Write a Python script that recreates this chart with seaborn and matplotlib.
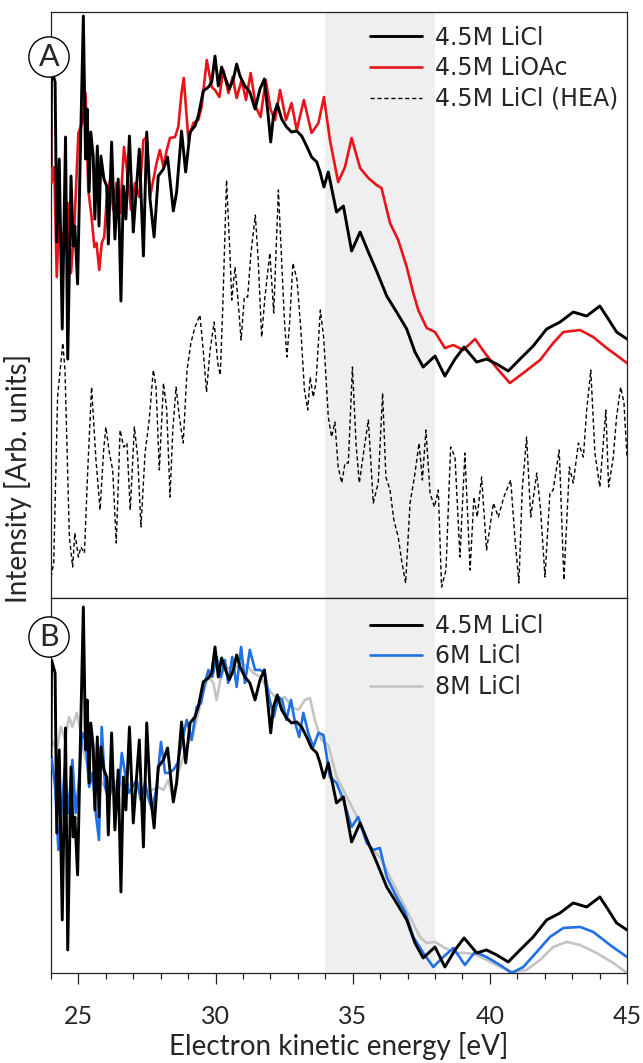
import numpy as np
import pandas as pd
import matplotlib
matplotlib.use("Agg")
import matplotlib.pyplot as plt
from matplotlib.ticker import MultipleLocator
import seaborn as sns

# 4.5M LiCl (shown in both panels)
licl45_e = [24.00, 24.02, 24.15, 24.21, 24.30, 24.41, 24.53, 24.61, 24.73, 24.81,
            24.87, 24.97, 25.06, 25.18, 25.26, 25.32, 25.39, 25.45, 25.54, 25.60,
            25.69, 25.75, 25.82, 25.93, 26.03, 26.09, 26.21, 26.33, 26.45, 26.55,
            26.64, 26.73, 26.86, 27.00, 27.12, 27.22, 27.37, 27.49, 27.61, 27.76,
            27.91, 28.10, 28.25, 28.46, 28.58, 28.76, 28.91, 29.07, 29.25, 29.37,
            29.55, 29.74, 29.86, 29.98, 30.10, 30.22, 30.34, 30.50, 30.65, 30.77,
            30.89, 31.07, 31.25, 31.44, 31.62, 31.78, 31.92, 32.01, 32.11, 32.25,
            32.41, 32.59, 32.77, 32.96, 33.14, 33.32, 33.50, 33.69, 33.81, 33.95,
            34.11, 34.41, 34.66, 34.96, 35.27, 35.57, 35.87, 36.24, 36.60, 36.97,
            37.27, 37.57, 38.00, 38.36, 38.73, 39.06, 39.52, 39.88, 40.25, 40.67,
            41.10, 41.58, 42.07, 42.56, 43.04, 43.53, 44.01, 44.32, 44.62, 45.00]
licl45_i = [216, 313, 300, 140, 223, 53, 245, 23, 206, 136,
            156, 98, 216, 366, 223, 273, 190, 250, 226, 163,
            236, 156, 226, 203, 196, 138, 240, 143, 203, 81,
            196, 163, 246, 150, 196, 233, 126, 250, 183, 145,
            206, 213, 225, 171, 190, 251, 210, 250, 256, 266,
            291, 295, 300, 326, 296, 315, 305, 293, 303, 318,
            306, 296, 290, 273, 293, 303, 266, 240, 266, 278,
            263, 255, 250, 251, 246, 236, 225, 220, 210, 195,
            210, 170, 176, 131, 150, 130, 111, 86, 70, 53,
            30, 15, 26, 6, 23, 35, 20, 23, 18, 11,
            23, 36, 53, 60, 70, 66, 76, 63, 50, 43]

# 4.5M LiOAc
lioac_e = [24.00, 24.02, 24.12, 24.21, 24.29, 24.49, 24.61, 24.73, 24.85, 25.00,
           25.14, 25.26, 25.36, 25.48, 25.58, 25.66, 25.76, 25.85, 25.94, 26.03,
           26.15, 26.27, 26.39, 26.52, 26.66, 26.76, 26.92, 27.06, 27.22, 27.37,
           27.49, 27.61, 27.73, 27.85, 27.97, 28.10, 28.22, 28.34, 28.52, 28.64,
           28.76, 28.84, 29.01, 29.19, 29.37, 29.49, 29.68, 29.86, 29.98, 30.14,
           30.28, 30.47, 30.62, 30.77, 30.95, 31.11, 31.28, 31.47, 31.64, 31.83,
           32.01, 32.17, 32.35, 32.57, 32.77, 32.96, 33.22, 33.50, 33.75, 33.95,
           34.17, 34.47, 34.72, 34.96, 35.27, 35.57, 35.87, 36.05, 36.36, 36.66,
           36.97, 37.20, 37.39, 37.70, 38.00, 38.36, 38.67, 39.03, 39.46, 39.82,
           40.25, 40.73, 41.22, 41.83, 42.31, 42.68, 43.29, 43.77, 44.26, 45.00]
lioac_i = [272, 199, 215, 105, 159, 139, 179, 109, 155, 249,
           259, 289, 192, 165, 135, 139, 112, 139, 145, 182,
           202, 172, 199, 169, 235, 215, 172, 199, 185, 242,
           245, 185, 202, 219, 232, 215, 232, 244, 245, 255,
           289, 304, 242, 259, 262, 275, 322, 295, 292, 285,
           312, 289, 305, 284, 302, 282, 309, 275, 265, 302,
           272, 262, 292, 262, 279, 252, 282, 249, 259, 285,
           242, 200, 215, 244, 214, 204, 197, 194, 159, 142,
           115, 90, 72, 54, 50, 34, 37, 32, 43, 29,
           14, -1, 9, 22, 39, 50, 52, 45, 34, 19]

# 4.5M LiCl (HEA)
hea_e = [24.00, 24.10, 24.24, 24.43, 24.51, 24.67, 24.79, 24.87, 25.00, 25.09,
         25.22, 25.34, 25.48, 25.64, 25.79, 25.92, 26.00, 26.13, 26.25, 26.38,
         26.52, 26.65, 26.77, 26.89, 27.04, 27.16, 27.28, 27.43, 27.58, 27.73,
         27.83, 27.95, 28.10, 28.22, 28.34, 28.44, 28.56, 28.68, 28.82, 28.96,
         29.10, 29.25, 29.43, 29.55, 29.67, 29.80, 29.95, 30.08, 30.17, 30.26,
         30.40, 30.53, 30.59, 30.71, 30.81, 30.93, 31.05, 31.17, 31.29, 31.45,
         31.56, 31.68, 31.80, 31.98, 32.12, 32.29, 32.41, 32.51, 32.60, 32.70,
         32.82, 32.97, 33.11, 33.24, 33.36, 33.45, 33.56, 33.66, 33.82, 33.94,
         34.11, 34.23, 34.35, 34.47, 34.60, 34.72, 34.84, 34.99, 35.12, 35.24,
         35.41, 35.57, 35.75, 35.93, 36.09, 36.21, 36.36, 36.50, 36.66, 36.78,
         36.93, 37.09, 37.25, 37.42, 37.54, 37.67, 37.82, 37.98, 38.12, 38.24,
         38.40, 38.57, 38.73, 38.91, 39.09, 39.28, 39.42, 39.54, 39.70, 39.88,
         40.13, 40.31, 40.51, 40.76, 40.92, 41.06, 41.18, 41.34, 41.49, 41.71,
         41.85, 42.01, 42.19, 42.31, 42.53, 42.70, 42.90, 43.04, 43.23, 43.41,
         43.53, 43.68, 43.83, 44.01, 44.23, 44.33, 44.50, 44.62, 44.77, 44.89,
         45.00]
hea_i = [-195, -181, -15, 39, 12, -155, -185, -151, -175, -165,
         -171, -88, -5, -78, -128, -68, -45, -71, -88, -161,
         -48, -65, -61, -128, -45, -75, -145, -71, -38, 12,
         -5, -88, -1, -28, -115, -48, -5, -35, -61, 12,
         39, 55, 67, 32, -10, 32, 60, 19, 7, 72,
         202, 125, 82, 115, 85, 42, 85, 85, 129, 167,
         119, 45, 85, 129, 69, 192, 122, 62, 25, 59,
         119, 102, 52, -8, -28, 5, -15, -1, 72, 45,
         -35, -55, -40, -85, -101, -81, -81, 15, -61, -101,
         -68, -38, -121, -101, -11, -95, -108, -138, -155, -178,
         -201, -121, -95, -61, -98, -48, -111, -125, -108, -205,
         -188, -65, -75, -175, -71, -188, -115, -135, -95, -168,
         -121, -135, -115, -98, -158, -201, -108, -55, -135, -91,
         -128, -195, -111, -108, -68, -198, -85, -101, -61, -75,
         -28, 12, -71, -105, -28, -105, -75, -35, -5, -21,
         -75]

# 6M LiCl
licl6_e = [24.02, 24.15, 24.27, 24.39, 24.51, 24.63, 24.78, 24.90, 25.00, 25.14,
           25.26, 25.39, 25.51, 25.63, 25.75, 25.85, 25.97, 26.11, 26.27, 26.43,
           26.58, 26.70, 26.84, 26.97, 27.12, 27.27, 27.43, 27.57, 27.69, 27.85,
           28.01, 28.16, 28.30, 28.46, 28.62, 28.76, 28.95, 29.13, 29.31, 29.47,
           29.61, 29.74, 29.88, 30.04, 30.20, 30.34, 30.46, 30.61, 30.77, 30.93,
           31.07, 31.25, 31.44, 31.62, 31.80, 31.95, 32.12, 32.29, 32.43, 32.58,
           32.75, 32.90, 33.05, 33.20, 33.38, 33.56, 33.75, 33.93, 34.17, 34.41,
           34.66, 34.96, 35.20, 35.51, 35.75, 35.99, 36.24, 36.60, 36.91, 37.21,
           37.57, 37.94, 38.30, 38.67, 39.09, 39.46, 39.88, 40.37, 40.79, 41.22,
           41.71, 42.19, 42.68, 43.29, 43.77, 44.38, 45.00]
licl6_i = [216, 186, 123, 166, 206, 160, 213, 160, 186, 240,
           233, 186, 200, 160, 133, 246, 186, 173, 193, 166,
           220, 200, 180, 186, 193, 173, 190, 173, 163, 186,
           231, 200, 200, 203, 210, 230, 253, 233, 266, 270,
           290, 303, 296, 316, 296, 313, 290, 316, 286, 326,
           290, 323, 303, 303, 300, 276, 256, 276, 273, 253,
           273, 250, 236, 260, 240, 226, 240, 238, 196, 190,
           173, 146, 156, 130, 123, 125, 96, 76, 61, 36,
           20, 6, 16, 25, 8, 21, 16, 8, 0, 6,
           21, 36, 45, 46, 41, 28, 16]

# 8M LiCl
licl8_e = [24.02, 24.21, 24.36, 24.51, 24.66, 24.78, 24.94, 25.09, 25.24, 25.42,
           25.60, 25.79, 25.97, 26.21, 26.45, 26.70, 26.94, 27.18, 27.43, 27.67,
           27.91, 28.10, 28.28, 28.46, 28.64, 28.82, 29.01, 29.19, 29.37, 29.55,
           29.74, 29.92, 30.04, 30.22, 30.40, 30.59, 30.77, 30.95, 31.19, 31.38,
           31.62, 31.86, 32.04, 32.29, 32.53, 32.77, 33.02, 33.26, 33.44, 33.62,
           33.86, 34.11, 34.41, 34.90, 35.27, 35.63, 35.99, 36.36, 36.72, 37.09,
           37.45, 37.70, 38.00, 38.36, 38.73, 39.15, 39.52, 39.88, 40.37, 40.86,
           41.34, 41.83, 42.31, 42.80, 43.29, 43.89, 44.50, 45.00]
licl8_i = [233, 223, 246, 233, 256, 246, 260, 240, 216, 200,
           186, 193, 186, 196, 186, 193, 186, 190, 180, 183,
           186, 183, 193, 173, 200, 216, 230, 240, 260, 280,
           296, 290, 273, 300, 306, 303, 306, 310, 306, 300,
           296, 286, 280, 273, 276, 266, 263, 273, 275, 253,
           233, 228, 196, 170, 150, 126, 116, 96, 76, 56,
           36, 30, 31, 25, 20, 20, 18, 13, 6, 1,
           3, 13, 26, 31, 28, 20, 10, 0]

shade_range = (34, 38)
xticks = [25, 30, 35, 40, 45]

sns.set_theme(style="white")
plt.rcParams["font.family"] = ["Lato", "DejaVu Sans"]

fig = plt.figure(figsize=(6.43, 10.63), dpi=100)
ax_a = fig.add_axes([0.0793, 0.4374, 0.8958, 0.5513])
ax_b = fig.add_axes([0.0793, 0.0847, 0.8958, 0.3528])

for ax in (ax_a, ax_b):
    ax.axvspan(*shade_range, color="#efefef", lw=0, zorder=0)

# panel A
sns.lineplot(x=hea_e, y=hea_i, ax=ax_a, color="black", lw=1.0, ls=(0, (3, 2)),
             estimator=None, sort=False, label="4.5M LiCl (HEA)", zorder=2)
sns.lineplot(x=lioac_e, y=lioac_i, ax=ax_a, color="#e8141a", lw=1.9,
             estimator=None, sort=False, label="4.5M LiOAc", zorder=3)
sns.lineplot(x=licl45_e, y=licl45_i, ax=ax_a, color="black", lw=2.1,
             estimator=None, sort=False, label="4.5M LiCl", zorder=4)

# panel B
sns.lineplot(x=licl8_e, y=licl8_i, ax=ax_b, color="#c4c4c4", lw=1.9,
             estimator=None, sort=False, label="8M LiCl", zorder=2)
sns.lineplot(x=licl6_e, y=licl6_i, ax=ax_b, color="#1f6fe5", lw=1.9,
             estimator=None, sort=False, label="6M LiCl", zorder=3)
sns.lineplot(x=licl45_e, y=licl45_i, ax=ax_b, color="black", lw=2.1,
             estimator=None, sort=False, label="4.5M LiCl", zorder=4)

ax_a.set_ylim(-216, 370)
ax_b.set_ylim(0, 375)

for ax, anchor in ((ax_a, (0.533, 0.997)), (ax_b, (0.533, 0.989))):
    ax.set_xlim(24, 45)
    ax.set_yticks([])
    ax.set_xlabel("")
    ax.set_ylabel("")
    for s in ax.spines.values():
        s.set_color("#222222")
        s.set_linewidth(0.9)
    h, l = ax.get_legend_handles_labels()
    ax.legend(h[::-1], l[::-1], loc="upper left", bbox_to_anchor=anchor,
              frameon=False, borderpad=0, labelspacing=0.28, handlelength=2.2,
              handletextpad=0.55, prop={"family": "DejaVu Sans", "size": 17})

ax_a.set_xticks([])
ax_b.xaxis.set_major_locator(MultipleLocator(5))
ax_b.xaxis.set_minor_locator(MultipleLocator(1))
ax_b.tick_params(axis="x", which="major", bottom=True, direction="out",
                 length=8, width=0.9, color="#222222", labelsize=18, pad=15)
ax_b.tick_params(axis="x", which="minor", bottom=True, direction="out",
                 length=4.5, width=0.9, color="#222222")
ax_b.set_xticks(xticks)
ax_b.set_xlabel("Electron kinetic energy [eV]", fontsize=20, labelpad=3)

fig.text(18 / 643, 1 - 478 / 1063, "Intensity [Arb. units]", rotation=90,
         ha="center", va="center", fontsize=20)

for letter, ypx in (("A", 57), ("B", 637)):
    fig.text(49 / 643, 1 - ypx / 1063, letter, ha="center", va="center",
             fontsize=22, zorder=10,
             bbox=dict(boxstyle="circle,pad=0.2", fc="white", ec="black", lw=1.0))

fig.savefig("out.png", dpi=100)
